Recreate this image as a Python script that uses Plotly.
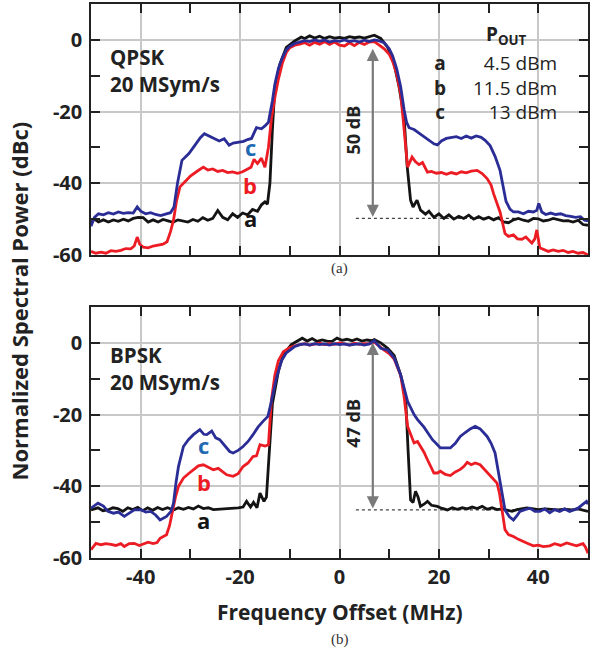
import plotly.graph_objects as go

# ---------------- DATA ----------------
# Panel (a) QPSK 20 MSym/s
qpsk_a_f = [-50, -49.3, -48.5, -47.5, -46.5, -45.5, -44.5, -43.5, -42.5, -41.5, -40.5, -39.5, -38.5, -37.5, -36.5, -35.5, -34.5, -33.5, -32.5, -31.5, -30.5, -29.5, -28.5, -27.5, -26.5, -25.5, -24.5, -23.5, -22.5, -21.5, -20.5, -19.5, -18.5, -17.5, -16.5, -15.7, -15, -14.5, -14, -13.5, -13, -12, -10.7, -9, -7.7, -7, -6, -5, -4, -3, -2, -1, 0, 1, 2, 3, 4, 5, 6, 7, 8.3, 9.7, 11, 12, 13, 13.6, 14.3, 14.8, 15.6, 16.3, 17.3, 18, 19, 20, 21, 22, 23, 24, 25, 26, 27, 28, 29, 30, 31, 32, 33, 34, 35, 36, 37, 38, 39, 40, 41, 42, 43, 44, 45, 46, 47, 48, 49, 50]
qpsk_a_db = [-51, -50, -50.8, -50.2, -50.8, -50.2, -50.6, -50, -50.5, -49.8, -49.5, -49.6, -50.8, -50.2, -50.8, -50.1, -50.5, -50.9, -50.2, -50.6, -50.8, -50.1, -50.6, -49.6, -50.3, -49.8, -47.6, -49.5, -50.2, -48.5, -49.5, -48.3, -48.8, -47.3, -47.8, -46, -45.2, -45.8, -40, -25, -13.2, -6.8, -2.1, -0.3, 0.8, 0.4, 1.1, 0.5, 1, 0.4, 0.9, 0.5, 0.7, 0.4, 0.9, 0.6, 0.8, 0.5, 0.9, 1.3, 0.4, -2.1, -6.8, -13.2, -21.6, -35, -44.7, -46.6, -44.7, -47.5, -48.6, -47.8, -49.5, -48.5, -49.8, -48.8, -50, -49.2, -49.8, -48.9, -50, -49.3, -50, -49.5, -50.2, -49.6, -50.8, -51, -50.2, -49.8, -50.3, -50.6, -49.8, -49.9, -50.5, -50.3, -49.8, -50.2, -50.5, -50.4, -50.8, -50.3, -51.5, -51.7]

qpsk_b_f = [-50, -49, -48, -47, -46, -45, -44, -43, -42, -41.3, -40.7, -40.2, -39.5, -38.5, -37.5, -36.5, -35.5, -34.7, -34, -33.4, -32.8, -32.1, -31.3, -30.7, -30, -29.4, -28.5, -27.4, -26.5, -25.5, -24.5, -23.5, -22.5, -21.5, -20.5, -19.5, -18.7, -17.8, -17.2, -16.5, -15.7, -15, -14.3, -13.7, -13, -12.3, -11.5, -10.7, -10, -9, -8, -7, -6, -5, -4, -3, -2, -1, 0, 1, 2, 3, 4, 5, 6, 7, 8, 9, 10, 10.7, 11.5, 12.3, 12.8, 13.3, 13.7, 14.6, 15.3, 16, 16.7, 17.7, 18.5, 19.5, 20.5, 21.5, 22.5, 23.5, 24.5, 25.5, 26.5, 27.7, 28.7, 29.7, 30.5, 31, 31.7, 32.3, 32.8, 33.3, 34, 35, 35.8, 36.7, 37.5, 38.3, 38.7, 39.3, 39.7, 40.3, 41, 42, 43, 44, 45, 46, 47, 48, 49, 50]
qpsk_b_db = [-59, -59.5, -59.2, -59.5, -58.8, -59, -58.7, -58.2, -58.3, -57.5, -55, -57, -57.8, -58, -57.5, -57.3, -57, -56.3, -53.5, -50.3, -45, -41, -40, -39, -38, -37.3, -36.5, -35.5, -36.3, -36, -36.7, -36.4, -37, -36.8, -37.2, -36.8, -36.2, -35.5, -33.3, -34.5, -33, -35.5, -30, -22, -16, -11, -6.5, -3.5, -2.2, -1.5, -1.2, -0.8, -1.5, -0.7, -1.2, -0.5, -1.3, -0.6, -1.5, -1.7, -0.8, -1.6, -0.7, -1.3, -0.6, -0.5, -1.5, -2.5, -4, -6, -9.5, -15, -22, -30, -35.5, -32.7, -34, -34.8, -34.2, -36.9, -36.7, -37.2, -37, -37.5, -37, -37.4, -36.8, -37.1, -36.6, -36.4, -37.3, -38.7, -40.5, -42.9, -45.5, -48, -51, -54, -54.8, -54.4, -55.5, -55.6, -55, -56.3, -56.7, -55.5, -53, -58, -58.5, -59, -58.6, -59, -58.7, -59.3, -59, -59.5, -59.3, -60]

qpsk_c_f = [-50, -49.3, -48.5, -47.5, -46.5, -45.5, -44.5, -43.5, -42.5, -41.5, -40.7, -40, -39, -38, -37, -36, -35, -34, -33.3, -32.6, -31.7, -30.3, -29, -28, -27.2, -26.2, -25.2, -24.2, -23.2, -22.2, -21.4, -20.4, -19.3, -18.5, -17.7, -16.7, -15.7, -15, -14.3, -13.5, -13, -12.3, -11.5, -10.7, -10, -9, -8, -7, -6, -5, -4, -3, -2, -1, 0, 1, 2, 3, 4, 5, 6, 7, 8, 9, 10, 10.7, 11.5, 12.3, 13, 13.5, 14, 15, 16, 17, 18, 19, 19.7, 20.5, 21.5, 22.5, 23.5, 24.5, 25.5, 26.5, 27.5, 28.5, 29.3, 30.3, 31.3, 32.3, 33, 33.5, 34.3, 35, 36, 37, 38, 39, 39.7, 40.1, 40.7, 41.5, 42.5, 43.5, 44.5, 45.5, 46.5, 47.5, 48.5, 49.3, 50]
qpsk_c_db = [-52, -49.5, -48.5, -48.8, -48.2, -48.6, -48, -48.4, -48.2, -48.3, -46.6, -47.8, -48.5, -48.2, -48.7, -49, -48.6, -48.2, -46.6, -40, -33.6, -31.7, -29.2, -27.3, -26.2, -26.8, -27.5, -28.2, -27.6, -29.4, -28.8, -28.6, -28.3, -27.8, -27.5, -24.5, -24.8, -24, -23, -17, -12.3, -8, -5, -2.8, -1.8, -1, -0.6, -0.2, -0.5, 0, -0.4, 0, -0.6, -0.2, -0.4, 0, -0.5, -0.2, -0.6, -0.1, -0.5, 0, -0.3, -0.8, -2.5, -4.5, -8, -13, -19.5, -23, -24.5, -25, -26, -27, -28, -29, -29.3, -28.2, -27.5, -27.3, -27, -27.5, -26.8, -27.4, -26.8, -27.2, -28, -29.5, -32.5, -36.4, -41, -45, -47.2, -48, -48, -48.5, -47.8, -48, -47.5, -45.6, -48, -48.7, -48.3, -48.7, -48.5, -49, -49.2, -49.5, -49.3, -50.3, -50.5]

# Panel (b) BPSK 20 MSym/s
bpsk_a_f = [-50, -49.3, -48.6, -47.6, -46.6, -45.6, -44.6, -43.6, -42.6, -41.6, -40.6, -39.6, -38.6, -37.6, -36.6, -35.6, -34.6, -33.4, -32.4, -31.4, -30.4, -29.4, -28.4, -27.4, -26.4, -25.4, -24.4, -23.4, -22.4, -21.4, -20.4, -19.4, -18.7, -17.9, -17.3, -16.6, -16, -15.2, -14.7, -14.2, -13.5, -12.3, -11.3, -9.7, -8.5, -7.5, -6.5, -5.5, -4.5, -3.5, -2.5, -1.5, -0.5, 0.5, 1.5, 2.5, 3.5, 4.5, 5.5, 6.5, 7, 8.3, 9.7, 11, 12.3, 13.3, 13.8, 14.3, 14.8, 15.3, 15.8, 16.3, 17, 17.7, 18.5, 19.7, 20.5, 21.7, 22.7, 23.7, 24.7, 25.7, 26.7, 27.7, 28.7, 29.7, 30.7, 31.7, 32.7, 33.7, 34.7, 35.7, 36.7, 37.7, 38.7, 40, 41.3, 42.7, 44, 45.3, 46.7, 48, 49.3, 50]
bpsk_a_db = [-46.6, -46.3, -46, -46.8, -46.6, -46, -46.2, -47, -46, -46.5, -45.9, -46.8, -46, -46.7, -45.9, -46.5, -46, -46.6, -46, -46.4, -45.9, -46.3, -45.5, -46.2, -46, -46.5, -46.4, -46.3, -46.2, -46.3, -46, -45.8, -44.2, -45.8, -44.5, -46, -41.9, -44.2, -43, -32, -17, -7.9, -3.3, -0.5, 0.6, 1.3, 0.5, 1.2, 0.4, 0.8, 0.5, 0.4, 1.3, 0.7, 1, 0.6, 1.1, 0.5, 0.8, 0.6, 0.9, 0, -1.5, -3.5, -8.9, -15, -30, -43.8, -44.5, -41.4, -43, -45.6, -45, -44.2, -45.3, -45.6, -46.1, -46.6, -46, -46.4, -46, -46.3, -45.8, -46.2, -45.6, -46.4, -46, -46.5, -46.3, -46.6, -47, -46.5, -46.3, -46, -46.2, -46.5, -46.3, -46.5, -46.6, -46.4, -46.6, -46.3, -46.8, -47]

bpsk_b_f = [-50, -49, -48, -47, -46, -45, -44, -43.3, -42.3, -41.3, -40.3, -39.3, -38.5, -37.5, -36.7, -36.1, -35.4, -34.8, -34.2, -33.7, -33, -32.4, -31.4, -30.4, -29.4, -28.4, -27.4, -26.4, -25.4, -24.4, -23.5, -22.7, -21.4, -20.4, -19.4, -18.4, -17.4, -16.7, -16, -15, -14.3, -13.7, -13, -12.3, -11.3, -10, -9, -8, -7, -6, -5, -4, -3, -2, -1, 0, 1, 2, 3, 4, 5, 6, 7, 8, 9, 10, 11, 12.3, 13, 13.7, 14.3, 15, 15.7, 16.3, 17, 17.7, 18.3, 19, 19.7, 20.3, 21.3, 22.3, 23.3, 24.3, 25, 25.7, 26.5, 27.3, 28.3, 29.3, 30.3, 31, 31.7, 32.2, 32.7, 33.3, 34, 35, 36, 37, 38, 39, 40, 41, 42.3, 43.3, 44.5, 45.7, 46.7, 47.7, 48.5, 49, 49.5, 50]
bpsk_b_db = [-57.7, -55.9, -56.3, -56, -56.2, -56.5, -56, -56.8, -56, -55.9, -56.5, -56, -55.6, -56, -55.7, -54.5, -54, -53.5, -51, -47.5, -43, -40, -37.7, -36.5, -35.4, -34.3, -34, -34.8, -35.4, -35, -36, -36.8, -37.2, -36.5, -34.5, -33.5, -31.7, -31.5, -28.4, -28.8, -28.4, -16, -9, -5, -2.5, -1.3, -0.8, -0.5, -0.2, -0.6, -0.3, -0.1, -0.5, -0.2, -0.4, 0, -0.3, -0.6, -0.1, -0.4, -0.2, -0.3, 0.2, -1, -2, -3, -4.5, -9, -15, -23.3, -25.5, -27.9, -27.5, -28.9, -30.5, -32.6, -34.5, -36.3, -36.3, -35.8, -36.7, -37, -36, -35.3, -34.5, -33.3, -34, -33.5, -34, -35.5, -37, -38, -39.1, -42, -46.6, -52.1, -53.5, -54, -54.8, -55.3, -56, -56.6, -56.4, -56.8, -56.6, -56, -56.5, -55.8, -56.2, -56.6, -56.2, -56, -57, -58.7]

bpsk_c_f = [-50, -48.6, -47.5, -46.6, -45.5, -44.5, -43.3, -42.3, -41.3, -40, -39, -38, -37, -36.1, -34.8, -33.9, -33.4, -32.9, -32.4, -31.4, -30.4, -29.4, -28.1, -27.3, -26.7, -25.7, -24.9, -24.1, -23.2, -22.1, -21.4, -20.4, -19.4, -18.4, -17.4, -16.4, -15.4, -14.4, -13.7, -12.7, -11.7, -10.7, -9.1, -8, -7, -6, -5, -4, -3, -2, -1, 0, 1, 2, 3, 4, 5, 6, 7, 8.3, 9.7, 11, 12.3, 13.7, 15, 15.7, 17, 17.7, 18.7, 19.7, 20.3, 21.3, 22.3, 23.3, 24.3, 25.3, 26.3, 27.3, 28.3, 29.7, 30.5, 31.3, 32.3, 33.3, 34.2, 35, 35.7, 36.3, 37.3, 38.3, 39.3, 40.3, 41.3, 42.3, 43.3, 44.3, 45.3, 46.3, 47.3, 48, 49, 49.7, 50]
bpsk_c_db = [-46.1, -44.7, -45.5, -47, -47.5, -47.2, -48.4, -47.5, -46.6, -46.5, -47.2, -47, -48, -49.4, -48.4, -47, -44.7, -39, -34.5, -28.9, -27, -25.6, -24.2, -25.5, -25.6, -24.6, -26.5, -27, -28.5, -30.3, -30.7, -30, -28.9, -27.5, -25.6, -23.5, -21.9, -20.5, -16.3, -9.8, -5.1, -2.8, -1.1, -0.5, -0.3, -0.6, -0.2, -0.5, -0.3, -0.6, -0.2, -0.5, -0.3, -0.6, -0.4, -0.3, -0.6, -0.3, 0.6, -1.5, -2, -4.2, -8.9, -16.3, -20, -21.4, -23.5, -25.1, -27, -28.4, -29.3, -29.3, -29.3, -28, -26.1, -25, -24, -23.3, -24, -26.1, -28, -30.7, -38.2, -46.6, -48.5, -49.4, -48.2, -47, -46.5, -46.1, -47, -47, -46.3, -47.4, -46.5, -47, -46.3, -47, -46.5, -46.1, -45, -44.2, -45]

x_tick_vals = [-40, -20, 0, 20, 40]
x_tick_text = ["-40", "-20", "0", "20", "40"]
x_minor_vals = [-30, -10, 10, 30]
y_tick_vals = [-60, -40, -20, 0]
y_tick_text = ["-60", "-40", "-20", "0"]
y_minor_vals = [-50, -30, -10]
pout_labels = ["a", "b", "c"]
pout_values = ["4.5 dBm", "11.5 dBm", "13 dBm"]
span_db = [50, 47]

# ---------------- STYLE ----------------
BLACK = "#141414"
RED = "#ec1c24"
BLUE = "#2b2d97"
LBL_BLUE = "#1f6bb3"
FONT = "'Open Sans', Lato, sans-serif"

fig = go.Figure()
panels = [
    ("x", "y", (qpsk_a_f, qpsk_a_db), (qpsk_b_f, qpsk_b_db), (qpsk_c_f, qpsk_c_db)),
    ("x2", "y2", (bpsk_a_f, bpsk_a_db), (bpsk_b_f, bpsk_b_db), (bpsk_c_f, bpsk_c_db)),
]
for xa, ya, a, b, c in panels:
    for (f, d), col in ((a, BLACK), (b, RED), (c, BLUE)):
        fig.add_trace(go.Scatter(x=f, y=d, mode="lines", xaxis=xa, yaxis=ya,
                                 line=dict(color=col, width=2.8), showlegend=False,
                                 hoverinfo="skip"))

axis_common = dict(
    showgrid=True, gridcolor="#c8c8c8", gridwidth=1.5, zeroline=False,
    ticks="inside", ticklen=9, tickwidth=1.5, tickcolor="#222",
    showline=True, linecolor="#222", linewidth=1.5, mirror="allticks",
    tickfont=dict(family=FONT, size=20, color="#222", weight="bold"),
)
xcommon = dict(axis_common, range=[-50, 50], tickmode="array", tickvals=x_tick_vals, ticktext=x_tick_text,
               minor=dict(tickmode="array", tickvals=x_minor_vals, ticks="inside", ticklen=9,
                          tickwidth=1.5, tickcolor="#222", showgrid=False))
ycommon = dict(axis_common, range=[-60, 10], tickmode="array", tickvals=y_tick_vals, ticktext=y_tick_text,
               minor=dict(tickmode="array", tickvals=y_minor_vals, ticks="inside", ticklen=9,
                          tickwidth=1.5, tickcolor="#222", showgrid=False),
               ticklabelstandoff=3)

top_dom = [303 / 554, 1.0]
bot_dom = [0.0, 251 / 554]
fig.update_layout(
    width=591, height=663,
    margin=dict(l=91, r=1, t=4, b=105),
    paper_bgcolor="white", plot_bgcolor="white",
    font=dict(family=FONT, color="#222"),
    xaxis=dict(xcommon, domain=[0, 1], anchor="y", showticklabels=False),
    yaxis=dict(ycommon, domain=top_dom, anchor="x"),
    xaxis2=dict(xcommon, domain=[0, 1], anchor="y2", ticklabelstandoff=0),
    yaxis2=dict(ycommon, domain=bot_dom, anchor="x2"),
)

ann = []
# Panel texts (two lines each)
for xr, yr, mod, yc in (("x", "y", "QPSK", -8.6), ("x2", "y2", "BPSK", -7.1)):
    ann.append(dict(x=-46.6, y=yc, xref=xr, yref=yr, text=f"{mod}<br>20 MSym/s", showarrow=False,
                    xanchor="left", yanchor="middle", align="left",
                    font=dict(size=20.5, weight="bold", color="#222")))

# curve labels
for xr, yr, pos in (("x", "y", [(-18, -49.8), (-18, -40.6), (-18, -29.9)]),
                    ("x2", "y2", [(-27.3, -49.4), (-27.3, -38.7), (-27.3, -28.4)])):
    for (px, py), lab, col in zip(pos, pout_labels, (BLACK, RED, LBL_BLUE)):
        ann.append(dict(x=px, y=py, xref=xr, yref=yr, text=lab, showarrow=False,
                        font=dict(size=22, weight="bold", color=col)))

# Pout legend (panel a)
ann.append(dict(x=33.7, y=1.4, xref="x", yref="y", text="<b>P<sub>OUT</sub></b>", showarrow=False,
                font=dict(size=19, color="#222")))
ann.append(dict(x=20.3, y=-13.3, xref="x", yref="y", text="<br>".join(pout_labels), showarrow=False,
                xanchor="center", yanchor="middle", align="center",
                font=dict(size=19, weight="bold", color="#222")))
ann.append(dict(x=44.2, y=-13.3, xref="x", yref="y", text="<br>".join(pout_values), showarrow=False,
                xanchor="right", yanchor="middle", align="right",
                font=dict(size=19, color="#222")))

# double arrows and span labels
for xr, yr, top, bot, lab, ly in (("x", "y", -2.5, -49.8, span_db[0], -25),
                                  ("x2", "y2", 0, -46.6, span_db[1], -22.3)):
    ann.append(dict(x=6.7, y=top, ax=6.7, ay=bot, xref=xr, yref=yr, axref=xr, ayref=yr,
                    showarrow=True, arrowhead=2, startarrowhead=2, arrowside="end+start",
                    arrowsize=1.1, startarrowsize=1.1, arrowwidth=2.2, arrowcolor="#7a7a7a", text=""))
    ann.append(dict(x=2.7, y=ly, xref=xr, yref=yr, text=f"{lab} dB", showarrow=False, textangle=-90,
                    font=dict(size=18, weight="bold", color="#222")))
    fig.add_shape(type="line", xref=xr, yref=yr, x0=3.3, x1=36, y0=bot, y1=bot,
                  line=dict(color="#444", width=1.2, dash="dot"), layer="below")

# axis titles and panel captions
ann.append(dict(x=0.5, y=(558 - 612) / 554, xref="paper", yref="paper", text="Frequency Offset (MHz)",
                xanchor="center", yanchor="middle", showarrow=False,
                font=dict(size=21, weight="bold", color="#222")))
ann.append(dict(x=(19 - 91) / 500, y=(558 - 301) / 554, xref="paper", yref="paper",
                xanchor="center", yanchor="middle",
                text="Normalized Spectral Power (dBc)", textangle=-90, showarrow=False,
                font=dict(size=22, weight="bold", color="#222")))
ann.append(dict(x=0.5, y=(558 - 268) / 554, xref="paper", yref="paper", text="(a)", showarrow=False,
                xanchor="center", yanchor="middle",
                font=dict(size=15, family="Liberation Serif, serif", color="#333")))
ann.append(dict(x=0.5, y=(558 - 640) / 554, xref="paper", yref="paper", text="(b)", showarrow=False,
                xanchor="center", yanchor="middle",
                font=dict(size=15, family="Liberation Serif, serif", color="#333")))
fig.update_layout(annotations=ann)

fig.write_html("out.html")
